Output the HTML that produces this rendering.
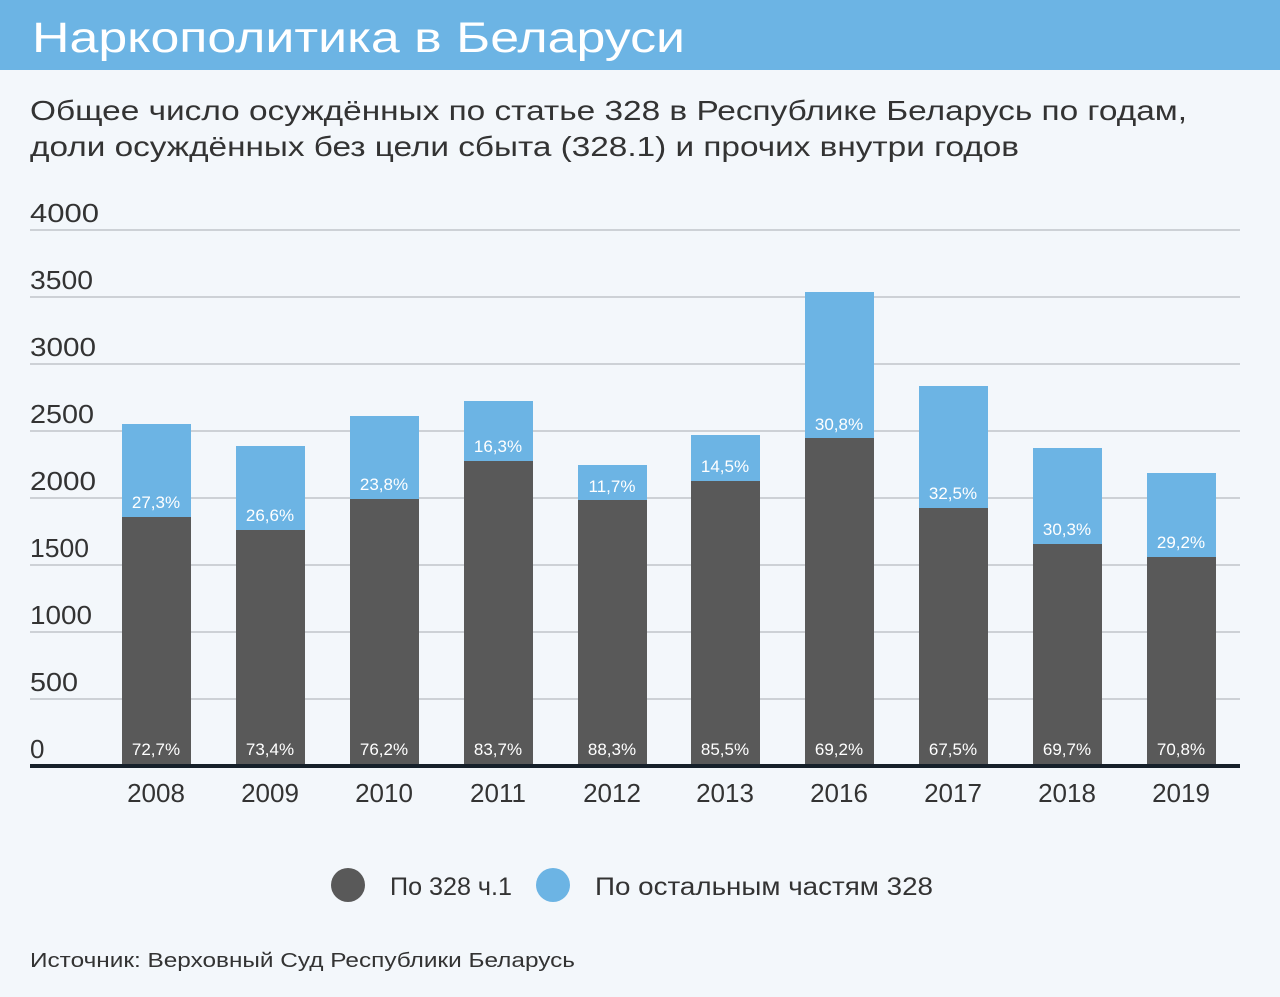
<!DOCTYPE html>
<html><head><meta charset="utf-8"><style>
html,body{margin:0;padding:0;background:#f3f7fb;}
svg{display:block;font-family:"Liberation Sans","DejaVu Sans",sans-serif;}
</style></head><body>
<svg width="1280" height="997" viewBox="0 0 1280 997" xmlns="http://www.w3.org/2000/svg">
<rect width="1280" height="997" fill="#f3f7fb"/>
<rect width="1280" height="70" fill="#6cb4e4"/>
<text x="32" y="52" font-size="43" fill="#fff" textLength="653" lengthAdjust="spacingAndGlyphs">Наркополитика в Беларуси</text>
<text x="30" y="120" font-size="28" fill="#333" textLength="1157" lengthAdjust="spacingAndGlyphs">Общее число осуждённых по статье 328 в Республике Беларусь по годам,</text>
<text x="30" y="156" font-size="28" fill="#333" textLength="989" lengthAdjust="spacingAndGlyphs">доли осуждённых без цели сбыта (328.1) и прочих внутри годов</text>
<g stroke="#cdd1d6" stroke-width="2">
<line x1="30" x2="1240" y1="230" y2="230"/><line x1="30" x2="1240" y1="297" y2="297"/>
<line x1="30" x2="1240" y1="364" y2="364"/><line x1="30" x2="1240" y1="431" y2="431"/>
<line x1="30" x2="1240" y1="498" y2="498"/><line x1="30" x2="1240" y1="565" y2="565"/>
<line x1="30" x2="1240" y1="632" y2="632"/><line x1="30" x2="1240" y1="699" y2="699"/>
</g>
<g font-size="26" fill="#333">
<text x="30" y="222" textLength="69" lengthAdjust="spacingAndGlyphs">4000</text><text x="30" y="289" textLength="63" lengthAdjust="spacingAndGlyphs">3500</text><text x="30" y="356" textLength="66" lengthAdjust="spacingAndGlyphs">3000</text>
<text x="30" y="423" textLength="64" lengthAdjust="spacingAndGlyphs">2500</text><text x="30" y="490" textLength="66" lengthAdjust="spacingAndGlyphs">2000</text><text x="30" y="557" textLength="59" lengthAdjust="spacingAndGlyphs">1500</text>
<text x="30" y="624" textLength="62" lengthAdjust="spacingAndGlyphs">1000</text><text x="30" y="691" textLength="48" lengthAdjust="spacingAndGlyphs">500</text><text x="30" y="758">0</text>
</g>
<g font-size="17" text-anchor="middle">
<rect x="122" y="424" width="69" height="342" fill="#6cb4e4"/><rect x="122" y="517" width="69" height="249" fill="#595959"/>
<text x="156" y="508" fill="#fff">27,3%</text><text x="156" y="755" fill="#fff">72,7%</text>
<rect x="236" y="446" width="69" height="320" fill="#6cb4e4"/><rect x="236" y="530" width="69" height="236" fill="#595959"/>
<text x="270" y="521" fill="#fff">26,6%</text><text x="270" y="755" fill="#fff">73,4%</text>
<rect x="350" y="416" width="69" height="350" fill="#6cb4e4"/><rect x="350" y="499" width="69" height="267" fill="#595959"/>
<text x="384" y="490" fill="#fff">23,8%</text><text x="384" y="755" fill="#fff">76,2%</text>
<rect x="464" y="401" width="69" height="365" fill="#6cb4e4"/><rect x="464" y="461" width="69" height="305" fill="#595959"/>
<text x="498" y="452" fill="#fff">16,3%</text><text x="498" y="755" fill="#fff">83,7%</text>
<rect x="578" y="465" width="69" height="301" fill="#6cb4e4"/><rect x="578" y="500" width="69" height="266" fill="#595959"/>
<text x="612" y="492" fill="#fff">11,7%</text><text x="612" y="755" fill="#fff">88,3%</text>
<rect x="691" y="435" width="69" height="331" fill="#6cb4e4"/><rect x="691" y="481" width="69" height="285" fill="#595959"/>
<text x="725" y="472" fill="#fff">14,5%</text><text x="725" y="755" fill="#fff">85,5%</text>
<rect x="805" y="292" width="69" height="474" fill="#6cb4e4"/><rect x="805" y="438" width="69" height="328" fill="#595959"/>
<text x="839" y="430" fill="#fff">30,8%</text><text x="839" y="755" fill="#fff">69,2%</text>
<rect x="919" y="386" width="69" height="380" fill="#6cb4e4"/><rect x="919" y="508" width="69" height="258" fill="#595959"/>
<text x="953" y="499" fill="#fff">32,5%</text><text x="953" y="755" fill="#fff">67,5%</text>
<rect x="1033" y="448" width="69" height="318" fill="#6cb4e4"/><rect x="1033" y="544" width="69" height="222" fill="#595959"/>
<text x="1067" y="535" fill="#fff">30,3%</text><text x="1067" y="755" fill="#fff">69,7%</text>
<rect x="1147" y="473" width="69" height="293" fill="#6cb4e4"/><rect x="1147" y="557" width="69" height="209" fill="#595959"/>
<text x="1181" y="548" fill="#fff">29,2%</text><text x="1181" y="755" fill="#fff">70,8%</text>
</g>
<line x1="30" x2="1240" y1="766" y2="766" stroke="#16202a" stroke-width="4"/>
<g font-size="26" fill="#333" text-anchor="middle">
<text x="156" y="802">2008</text><text x="270" y="802">2009</text><text x="384" y="802">2010</text>
<text x="498" y="802">2011</text><text x="612" y="802">2012</text><text x="725" y="802">2013</text>
<text x="839" y="802">2016</text><text x="953" y="802">2017</text><text x="1067" y="802">2018</text>
<text x="1181" y="802">2019</text>
</g>
<circle cx="348" cy="885" r="17" fill="#595959"/>
<text x="390" y="895" font-size="25" fill="#333" textLength="122" lengthAdjust="spacingAndGlyphs">По 328 ч.1</text>
<circle cx="553" cy="885" r="17" fill="#6cb4e4"/>
<text x="595" y="895" font-size="25" fill="#333" textLength="338" lengthAdjust="spacingAndGlyphs">По остальным частям 328</text>
<text x="30" y="967" font-size="20" fill="#333" textLength="545" lengthAdjust="spacingAndGlyphs">Источник: Верховный Суд Республики Беларусь</text>
</svg>
</body></html>
